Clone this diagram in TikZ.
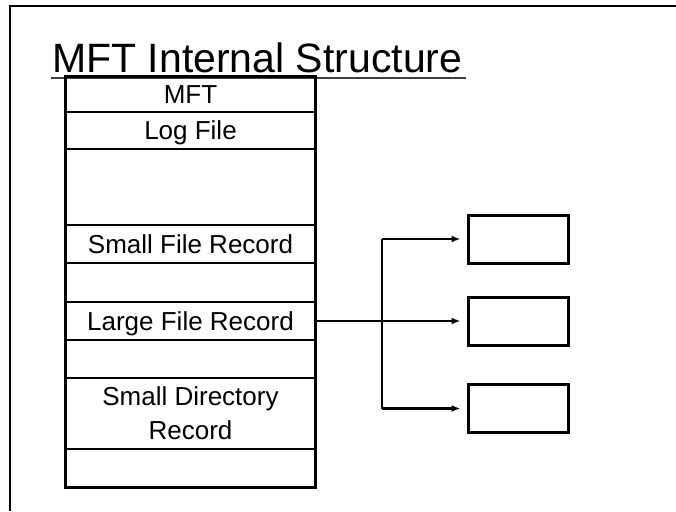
\documentclass[tikz,border=0pt]{standalone}
\usepackage{fontspec}
\setmainfont{Liberation Sans}
\usetikzlibrary{arrows.meta}
\begin{document}
\begin{tikzpicture}[x=1pt,y=-1pt,
  rowbox/.style={draw, line width=1.2pt, minimum width=249pt, inner sep=0pt,
    font=\fontsize{26}{34}\selectfont, text height=18.6pt, text depth=0pt, align=center},
  tallrow/.style={draw, line width=1.2pt, minimum width=249pt, inner sep=0pt,
    font=\fontsize{26}{34}\selectfont, align=center},
  target/.style={draw, line width=3pt, minimum width=100pt, minimum height=48pt, inner sep=0pt},
  conn/.style={line width=2.2pt},
  arr/.style={line width=2.2pt, -{Latex[length=9pt,width=7pt]}, shorten >=6pt}]
\useasboundingbox (0,0) rectangle (676,511);
% frame
\draw[line width=2.2pt] (10,511) -- (10,6) -- (676,6);
% title
\node[anchor=base west, inner sep=0pt, font=\fontsize{41}{48}\selectfont] (title) at (52,72) {MFT Internal Structure};
\draw[line width=2pt, black!75] (51,78) -- (466,78);
% table rows
\node[rowbox, minimum height=35pt] (r1) at (190.5,94.5) {MFT};
\node[rowbox, minimum height=37pt] (r2) at (190.5,130.5) {Log File};
\node[rowbox, minimum height=76pt] (r3) at (190.5,187) {};
\node[rowbox, minimum height=38pt] (r4) at (190.5,244) {Small File Record};
\node[rowbox, minimum height=39pt] (r5) at (190.5,282.5) {};
\node[rowbox, minimum height=38pt] (r6) at (190.5,321) {Large File Record};
\node[rowbox, minimum height=38pt] (r7) at (190.5,359) {};
\node[tallrow, minimum height=71pt] (r8) at (190.5,413.5) {Small Directory\\Record};
\node[rowbox, minimum height=38pt] (r9) at (190.5,468) {};
\draw[line width=2pt] (r1.north west) rectangle (r9.south east);
% target boxes
\node[target] (b1) at (518,239) {};
\node[target] (b2) at (518,321) {};
\node[target] (b3) at (518,408.5) {};
% connectors
\coordinate (j) at (382,321);
\draw[conn] (j |- b1.west) -- (j |- b3.west);
\draw[arr] (r6.east) -- (b2.west);
\draw[arr] (j |- b1.west) -- (b1.west);
\draw[arr] (j |- b3.west) -- (b3.west);
\end{tikzpicture}
\end{document}
